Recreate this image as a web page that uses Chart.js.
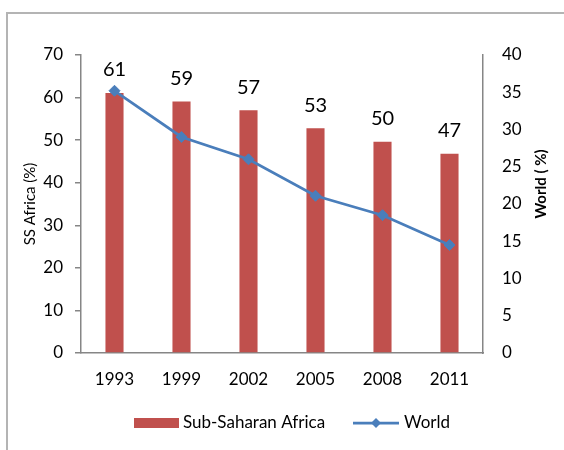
<!DOCTYPE html>
<html><head><meta charset="utf-8">
<script src="https://cdn.jsdelivr.net/npm/chart.js@4.4.0/dist/chart.umd.min.js"></script>
<style>html,body{margin:0;padding:0;background:#fff}</style>
</head><body>
<canvas id="c" width="564" height="450"></canvas>
<script>
const categories = ['1993', '1999', '2002', '2005', '2008', '2011'];
const ssAfrica = [61.1, 59.1, 57.0, 52.8, 49.6, 46.8];
const world = [35.2, 29.0, 26.0, 21.1, 18.5, 14.5];
const leftTicks = [0, 10, 20, 30, 40, 50, 60, 70];
const rightTicks = [0, 5, 10, 15, 20, 25, 30, 35, 40];
const seriesNames = ['Sub-Saharan Africa', 'World'];
const axisTitles = ['SS Africa (%)', 'World ( %)'];

const RED = '#C0504D', BLUE = '#4A7EBB', AXIS = '#868686';
const FONT = 'Lato';
Chart.defaults.font.family = FONT;
Chart.defaults.color = '#000';

const decor = {
  id: 'decor',
  beforeDraw(chart) {
    const ctx = chart.ctx;
    ctx.save();
    ctx.fillStyle = '#fff';
    ctx.fillRect(0, 0, chart.width, chart.height);
    ctx.strokeStyle = '#b4b4b4';
    ctx.lineWidth = 2;
    ctx.strokeRect(7, 13, 700, 600);
    ctx.restore();
  },
  afterDatasetsDraw(chart) {
    const ctx = chart.ctx;
    ctx.save();
    // bar value labels
    const meta = chart.getDatasetMeta(1);
    ctx.font = '20px ' + FONT;
    ctx.fillStyle = '#000';
    ctx.textAlign = 'center';
    ctx.textBaseline = 'alphabetic';
    meta.data.forEach((bar, i) => {
      ctx.fillText(String(Math.round(ssAfrica[i])), bar.x, bar.y - 16.5);
    });
    // axis titles
    ctx.font = '15px ' + FONT;
    ctx.save();
    ctx.translate(35, 204);
    ctx.rotate(-Math.PI / 2);
    ctx.fillText(axisTitles[0], 0, 0);
    ctx.restore();
    ctx.font = 'bold 15px ' + FONT;
    ctx.save();
    ctx.translate(546, 184);
    ctx.rotate(-Math.PI / 2);
    ctx.fillText(axisTitles[1], 0, 0);
    ctx.restore();
    // legend
    ctx.font = '17px ' + FONT;
    ctx.textAlign = 'left';
    ctx.fillStyle = RED;
    ctx.fillRect(134, 418, 45, 10);
    ctx.fillStyle = '#000';
    ctx.fillText(seriesNames[0], 183, 428);
    ctx.strokeStyle = BLUE;
    ctx.lineWidth = 2.75;
    ctx.beginPath();
    ctx.moveTo(353, 423);
    ctx.lineTo(399, 423);
    ctx.stroke();
    ctx.fillStyle = BLUE;
    ctx.beginPath();
    ctx.moveTo(376, 418); ctx.lineTo(381, 423); ctx.lineTo(376, 428); ctx.lineTo(371, 423);
    ctx.closePath(); ctx.fill();
    ctx.fillStyle = '#000';
    ctx.fillText(seriesNames[1], 404, 428);
    ctx.restore();
  }
};

new Chart(document.getElementById('c'), {
  data: {
    labels: categories,
    datasets: [
      {
        type: 'line', label: seriesNames[1], data: world, yAxisID: 'y1',
        borderColor: BLUE, backgroundColor: BLUE, borderWidth: 2.75,
        pointStyle: 'rectRot', pointRadius: 5.5, pointBorderWidth: 1,
        pointBackgroundColor: BLUE, pointBorderColor: BLUE, tension: 0, order: 0
      },
      {
        type: 'bar', label: seriesNames[0], data: ssAfrica, yAxisID: 'y',
        backgroundColor: RED, borderWidth: 0,
        categoryPercentage: 1, barPercentage: 0.27, order: 1
      }
    ]
  },
  options: {
    responsive: false,
    animation: false,
    layout: { padding: { top: 55, left: 0, right: 0, bottom: 0 } },
    plugins: { legend: { display: false }, tooltip: { enabled: false } },
    scales: {
      x: {
        grid: { display: true, drawOnChartArea: false, drawTicks: false },
        border: { display: true, color: AXIS, width: 1.5 },
        ticks: { font: { size: 17 }, padding: 16, color: '#000' },
        afterFit(s) { s.height = 97; }
      },
      y: {
        position: 'left', min: 0, max: 70,
        afterBuildTicks(s) { s.ticks = leftTicks.map(v => ({ value: v })); },
        grid: { display: true, drawOnChartArea: false, drawTicks: true, tickLength: 6, color: AXIS, lineWidth: 1.5 },
        border: { display: true, color: AXIS, width: 1.5 },
        ticks: { font: { size: 17 }, padding: 12, color: '#000' },
        afterFit(s) { s.width = 81; }
      },
      y1: {
        position: 'right', min: 0, max: 40,
        afterBuildTicks(s) { s.ticks = rightTicks.map(v => ({ value: v })); },
        grid: { display: true, drawOnChartArea: false, drawTicks: false },
        border: { display: true, color: AXIS, width: 1.5 },
        ticks: { font: { size: 17 }, padding: 19, color: '#000' },
        afterFit(s) { s.width = 81; }
      }
    }
  },
  plugins: [decor]
});
</script>
</body></html>
